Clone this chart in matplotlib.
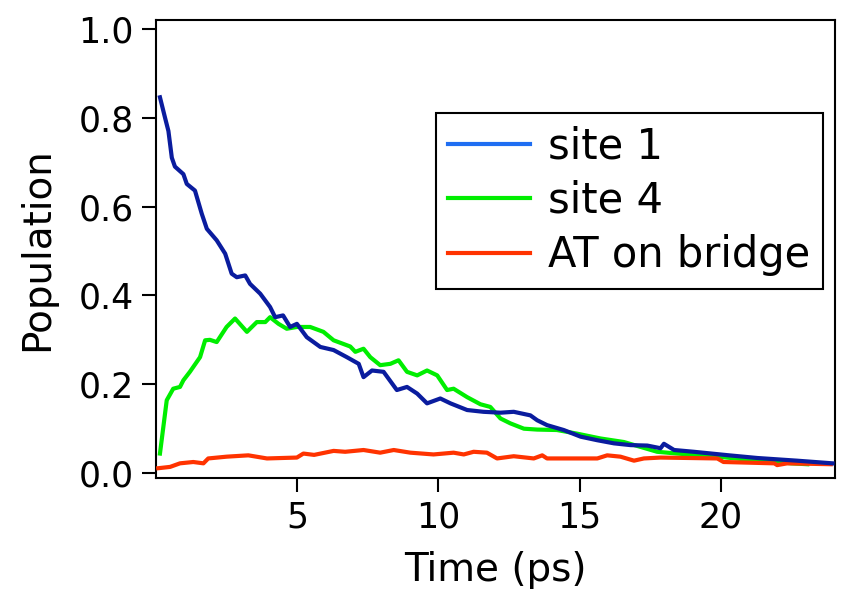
import matplotlib
matplotlib.use("Agg")
import matplotlib.pyplot as plt
from matplotlib.lines import Line2D

# ---- data ----
t_site1 = [0.14, 0.32, 0.44, 0.56, 0.67, 0.97, 1.09, 1.38, 1.62, 1.80, 2.15, 2.45, 2.68, 2.86,
           3.16, 3.33, 3.69, 4.04, 4.22, 4.50, 4.75, 4.99, 5.34, 5.82, 6.29, 6.76, 7.18, 7.35,
           7.65, 8.06, 8.53, 8.89, 9.25, 9.60, 10.07, 10.43, 11.02, 11.60, 12.20, 12.67, 13.26,
           13.50, 13.85, 14.44, 15.04, 15.63, 16.22, 16.81, 17.40, 17.87, 17.99, 18.35, 19.05,
           20.30, 21.30, 22.70, 23.96]
site1 = [0.846, 0.80, 0.77, 0.71, 0.69, 0.673, 0.651, 0.636, 0.584, 0.55, 0.524, 0.494, 0.449,
         0.441, 0.445, 0.426, 0.404, 0.374, 0.351, 0.355, 0.329, 0.336, 0.306, 0.284, 0.277,
         0.261, 0.246, 0.216, 0.231, 0.228, 0.187, 0.194, 0.179, 0.157, 0.168, 0.157, 0.142,
         0.138, 0.136, 0.138, 0.130, 0.119, 0.108, 0.097, 0.082, 0.074, 0.067, 0.063, 0.062,
         0.056, 0.066, 0.052, 0.048, 0.040, 0.034, 0.028, 0.022]

t_site4 = [0.14, 0.26, 0.38, 0.61, 0.85, 0.97, 1.20, 1.56, 1.74, 1.91, 2.15, 2.50, 2.80, 3.22,
           3.57, 3.87, 4.04, 4.34, 4.63, 4.99, 5.46, 5.93, 6.29, 6.88, 7.06, 7.35, 7.59, 7.94,
           8.30, 8.59, 8.89, 9.25, 9.60, 9.96, 10.31, 10.54, 11.02, 11.49, 11.84, 12.20, 12.55,
           13.03, 13.50, 14.20, 14.90, 15.74, 16.57, 17.16, 17.75, 18.46, 19.90, 21.00, 22.50,
           23.07]
site4 = [0.044, 0.104, 0.164, 0.190, 0.194, 0.209, 0.228, 0.261, 0.299, 0.300, 0.295, 0.329,
         0.348, 0.318, 0.340, 0.340, 0.351, 0.336, 0.325, 0.329, 0.329, 0.318, 0.299, 0.285,
         0.273, 0.280, 0.261, 0.243, 0.246, 0.254, 0.228, 0.220, 0.231, 0.220, 0.187, 0.190,
         0.171, 0.155, 0.149, 0.123, 0.112, 0.100, 0.098, 0.097, 0.089, 0.078, 0.070, 0.059,
         0.048, 0.044, 0.037, 0.030, 0.022, 0.020]

t_bridge = [0.08, 0.50, 0.85, 1.32, 1.68, 1.85, 2.50, 3.27, 3.93, 4.99, 5.22, 5.60, 6.29, 6.70,
            7.35, 7.94, 8.42, 9.01, 9.83, 10.54, 10.90, 11.25, 11.72, 12.08, 12.67, 13.38,
            13.68, 13.85, 15.63, 15.98, 16.45, 16.93, 17.28, 17.87, 19.88, 20.10, 21.90, 22.00,
            22.36, 23.90]
bridge = [0.011, 0.014, 0.022, 0.025, 0.022, 0.033, 0.037, 0.040, 0.033, 0.035, 0.044, 0.041,
          0.050, 0.048, 0.052, 0.046, 0.052, 0.046, 0.042, 0.046, 0.042, 0.048, 0.046, 0.033,
          0.038, 0.033, 0.040, 0.033, 0.033, 0.040, 0.037, 0.028, 0.033, 0.035, 0.033, 0.025,
          0.022, 0.018, 0.022, 0.020]

labels = ["site 1", "site 4", "AT on bridge"]
x_ticks = [5, 10, 15, 20]
y_ticks = [0.0, 0.2, 0.4, 0.6, 0.8, 1.0]

plt.rcParams['font.family'] = ['DejaVu Sans']

fig = plt.figure(figsize=(8.41, 5.94), dpi=100)
ax = fig.add_axes([0.1855, 0.1953, 0.8074, 0.7710])

ax.plot(t_site4, site4, color="#00ee00", lw=3, zorder=2)
ax.plot(t_bridge, bridge, color="#ff3300", lw=3, zorder=3)
ax.plot(t_site1, site1, color="#0a1c9e", lw=3, zorder=4)

ax.set_xlim(0, 24.05)
ax.set_ylim(-0.011, 1.02)
ax.set_xticks(x_ticks)
ax.set_xticklabels([str(v) for v in x_ticks])
ax.set_yticks(y_ticks)
ax.set_yticklabels([f"{v:.1f}" for v in y_ticks])

for s in ax.spines.values():
    s.set_linewidth(1.5)
    s.set_color("black")
ax.tick_params(direction="out", length=10, width=1.5, labelsize=25, pad=6, colors="black")

ax.set_xlabel("Time (ps)", fontsize=28, labelpad=12)
ax.set_ylabel("Population", fontsize=28, labelpad=16)

handles = [Line2D([], [], color="#1f6ef2", lw=3),
           Line2D([], [], color="#00ee00", lw=3),
           Line2D([], [], color="#ff3300", lw=3)]
leg = ax.legend(handles, labels, loc="upper right", bbox_to_anchor=(0.982, 0.797),
                borderaxespad=0, fontsize=30, frameon=True, fancybox=False,
                edgecolor="black", framealpha=1, handlelength=1.97, handletextpad=0.43,
                labelspacing=0.3, borderpad=0.3)
leg.get_frame().set_linewidth(1.5)

fig.savefig("out.png", dpi=100)
